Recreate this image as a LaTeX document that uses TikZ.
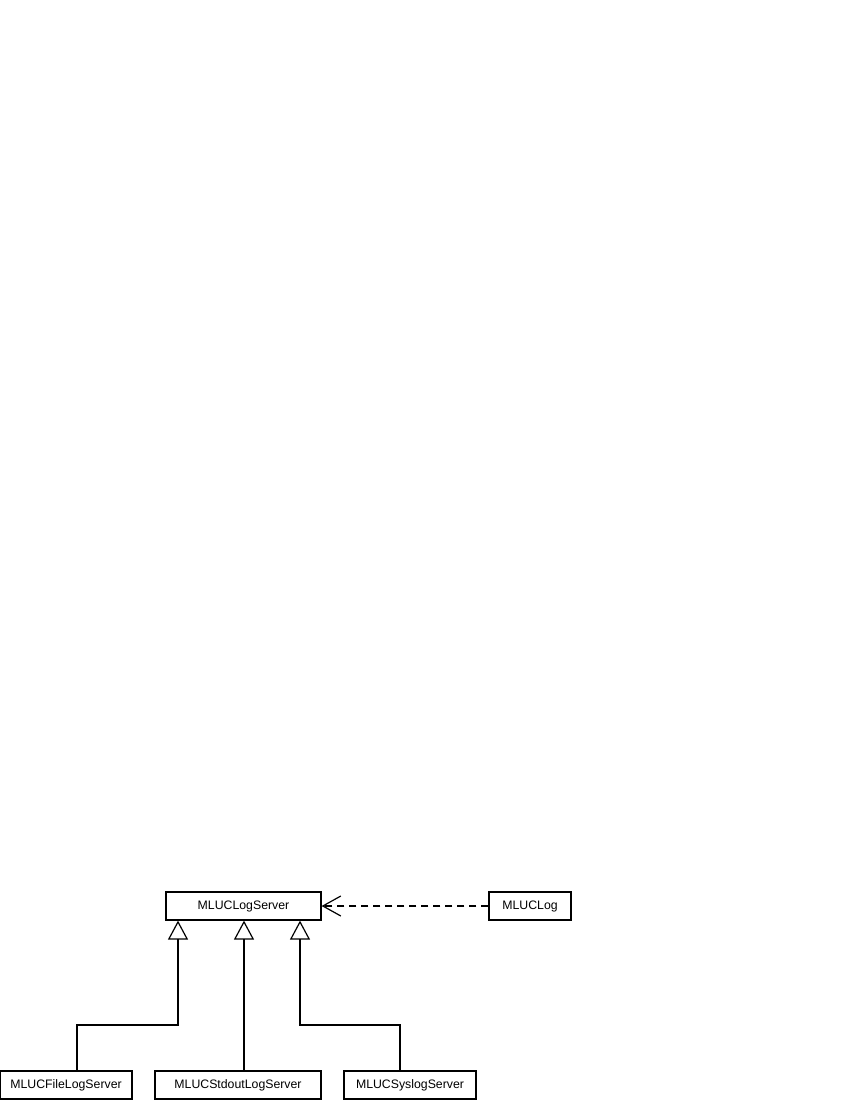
\documentclass[tikz,border=0pt]{standalone}
\usepackage{fontspec}
\setmainfont{Liberation Sans}
\usetikzlibrary{positioning,arrows.meta}

\begin{document}
\begin{tikzpicture}[x=1pt,y=-1pt,
    cls/.style={draw,line width=1.2pt,minimum height=28pt,inner sep=0pt,font=\fontsize{12.3}{14}\selectfont},
    isa/.style={line width=1.2pt,-{Triangle[open,width=20pt,length=19pt,line width=1.2pt]}},
    uses/.style={line width=1.2pt,dash pattern=on 7pt off 5pt,-{Straight Barb[width=20pt,length=18pt,line width=1.2pt]}}]
    \useasboundingbox (0,0) rectangle (850,1100);
    \node[cls,minimum width=155pt] (server) at (243.5,906) {MLUCLogServer};
    \node[cls,minimum width=82pt] (log) at (530,906) {MLUCLog};
    \node[cls,minimum width=132pt] (file) at (66,1085) {MLUCFileLogServer};
    \node[cls,minimum width=166pt] (stdout) at (238,1085) {MLUCStdoutLogServer};
    \node[cls,minimum width=132pt] (syslog) at (410,1085) {MLUCSyslogServer};
    \coordinate (j1) at (178,1025);
    \coordinate (j2) at (300,1025);
    \coordinate (j0) at (244,1000);
    \draw[uses] (log) -- (server);
    \draw[isa] ([xshift=11pt]file.north) |- (j1) -- (j1 |- server.south);
    \draw[isa] (j0 |- stdout.north) -- (j0 |- server.south);
    \draw[isa] ([xshift=-10pt]syslog.north) |- (j2) -- (j2 |- server.south);
\end{tikzpicture}
\end{document}
